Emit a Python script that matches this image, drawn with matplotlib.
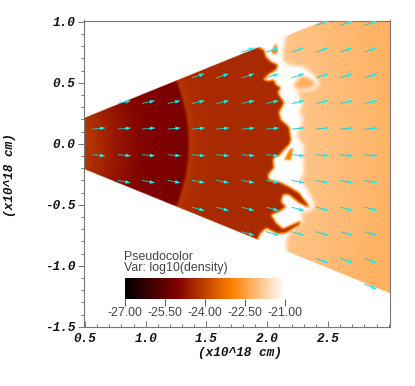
import matplotlib
matplotlib.use("Agg")
import matplotlib.pyplot as plt
import numpy as np
from matplotlib.colors import LinearSegmentedColormap
from matplotlib.path import Path
from matplotlib.ticker import MultipleLocator

# radial density profile inside the cavity (log10 density)
profile_r = [0.4, 0.5, 0.76, 0.97, 1.28, 1.33, 1.36, 1.42, 1.6, 2.6]
profile_rho = [-24.0, -24.12, -24.66, -24.97, -25.09, -25.1, -24.15, -24.3, -24.35, -24.35]

# ambient medium outside the shell
ambient_r = [2.0, 2.3, 2.6, 3.0, 3.4]
ambient_rho = [-21.85, -21.94, -22.04, -22.2, -22.3]

shell_rho = -21.0
plume_rho = -22.25
wisp_rho = -23.0
wedge_slope = 0.405
wedge_offset = 0.012

# inner edge of the shell, top to bottom
front_x = [1.916, 1.965, 1.981, 2.023, 2.080, 2.064, 1.998, 1.957, 2.006, 2.047, 2.064, 2.105,
           2.080, 2.088, 2.130, 2.088, 2.105, 2.171, 2.187, 2.171, 2.130, 2.088, 2.047, 2.039,
           2.047, 1.998, 2.006, 2.088, 2.187, 2.253, 2.327, 2.335, 2.253, 2.171, 2.121, 2.105,
           2.146, 2.088, 2.023, 2.064, 2.121, 2.212, 2.270, 2.253, 2.146, 2.080, 1.981, 1.940, 1.916]
front_y = [0.793, 0.768, 0.711, 0.670, 0.645, 0.604, 0.563, 0.522, 0.514, 0.522, 0.481, 0.457,
           0.424, 0.399, 0.334, 0.252, 0.194, 0.137, 0.030, -0.011, -0.052, -0.101, -0.117, -0.134,
           -0.199, -0.257, -0.298, -0.314, -0.363, -0.404, -0.502, -0.527, -0.486, -0.420, -0.420, -0.478,
           -0.519, -0.560, -0.584, -0.650, -0.699, -0.658, -0.634, -0.667, -0.732, -0.740, -0.691, -0.732, -0.773]

# outer edge of the shell, top to bottom
outer_x = [2.163, 2.138, 2.121, 2.121, 2.163, 2.286, 2.377, 2.426, 2.368, 2.228, 2.245, 2.286,
           2.253, 2.286, 2.270, 2.237, 2.253, 2.294, 2.286, 2.294, 2.261, 2.311, 2.377, 2.368,
           2.270, 2.286, 2.212, 2.163, 2.146, 2.154]
outer_y = [0.907, 0.850, 0.743, 0.686, 0.645, 0.629, 0.563, 0.489, 0.440, 0.424, 0.399, 0.334,
           0.260, 0.211, 0.137, 0.088, 0.030, -0.011, -0.109, -0.240, -0.298, -0.355, -0.486, -0.543,
           -0.568, -0.642, -0.707, -0.748, -0.830, -0.888]

plume_x = [2.204, 2.270, 2.335, 2.393, 2.352, 2.253]
plume_y = [0.473, 0.555, 0.539, 0.489, 0.457, 0.440]
wisp_top_x = [2.023, 2.064, 2.080, 2.047]
wisp_top_y = [0.752, 0.825, 0.752, 0.727]
wisp_mid_x = [2.130, 2.171, 2.204, 2.187]
wisp_mid_y = [-0.134, -0.052, -0.035, -0.134]

# velocity arrows: tails on a grid, one direction per row
arrow_cols = [0.56, 0.77, 0.97, 1.18, 1.38, 1.58, 1.79, 1.99, 2.20, 2.40, 2.60, 2.80]
arrow_rows = [0.97, 0.75, 0.54, 0.33, 0.12, -0.09, -0.30, -0.52, -0.72, -0.94, -1.15]
arrow_angle = [19, 20, 18, 12, 5, -5, -11, -15, -17, -20, -22]
arrow_first_col = [9, 6, 4, 1, 0, 0, 1, 4, 6, 9, 11]
arrow_length = 0.105

x_ticks = [0.5, 1.0, 1.5, 2.0, 2.5]
y_ticks = [-1.5, -1.0, -0.5, 0.0, 0.5, 1.0]
bar_ticks = [-27.0, -25.5, -24.0, -22.5, -21.0]

X_MIN, X_MAX = 0.488, 3.006
Y_MIN, Y_MAX = -1.502, 1.01
W, H = 415, 386


def inside(xs, ys, px, py):
    path = Path(np.column_stack([xs, ys]))
    return path.contains_points(np.column_stack([px.ravel(), py.ravel()])).reshape(px.shape).astype(float)


def blur(mask, sigma):
    half = int(3 * sigma) + 1
    kernel = np.exp(-0.5 * (np.arange(-half, half + 1) / sigma) ** 2)
    kernel /= kernel.sum()
    padded = np.pad(mask, half, mode="edge")
    padded = np.apply_along_axis(lambda v: np.convolve(v, kernel, mode="same"), 0, padded)
    padded = np.apply_along_axis(lambda v: np.convolve(v, kernel, mode="same"), 1, padded)
    return padded[half:-half, half:-half]


def density_field():
    gx, gy = np.meshgrid(np.linspace(X_MIN, X_MAX, 612), np.linspace(Y_MIN, Y_MAX, 612))
    r = np.hypot(gx, gy)

    # close the two outlines far off the wedge
    ix = [0.0] + front_x + [1.9, 0.0]
    iy = [1.2] + front_y + [-1.6, -1.6]
    ox = [2.163] + outer_x + [2.154, 3.3, 3.3]
    oy = [1.2] + outer_y + [-1.6, -1.6, 1.2]

    inner = blur(inside(ix, iy, gx, gy), 2.2)
    outer = blur(inside(ox, oy, gx, gy), 4.0)
    plume = blur(inside(plume_x, plume_y, gx, gy), 3.5)
    wisps = blur(inside(wisp_top_x, wisp_top_y, gx, gy) + inside(wisp_mid_x, wisp_mid_y, gx, gy), 1.6)

    cavity = np.interp(r, profile_r, profile_rho)
    ambient = np.interp(r, ambient_r, ambient_rho)

    z = shell_rho + (ambient - shell_rho) * outer
    z = z + (plume_rho - z) * plume
    z = z + (wisp_rho - z) * wisps
    z = z + (cavity - z) * inner
    return np.ma.masked_where(np.abs(gy) > wedge_slope * gx + wedge_offset, z)


def draw_arrows(ax):
    tx, ty, ux, uy = [], [], [], []
    for row, angle, first in zip(arrow_rows, arrow_angle, arrow_first_col):
        for col in arrow_cols[first:]:
            tx.append(col)
            ty.append(row)
            ux.append(arrow_length * np.cos(np.radians(angle)))
            uy.append(arrow_length * np.sin(np.radians(angle)))
    tx, ty, ux, uy = map(np.array, (tx, ty, ux, uy))
    ax.quiver(tx, ty, ux, uy, angles="xy", scale_units="xy", scale=1, units="dots", width=0.9,
              headwidth=1, headlength=0, headaxislength=0, color="#2fc4c0", zorder=3)
    ax.quiver(tx + 0.6 * ux, ty + 0.6 * uy, 0.4 * ux, 0.4 * uy, angles="xy", scale_units="xy", scale=1,
              units="dots", width=1.2, headwidth=3.4, headlength=4.5, headaxislength=4,
              color="#0ff5f5", zorder=4)


def main():
    cmap = LinearSegmentedColormap.from_list(
        "hot_visit", [(0.0, "#000000"), (0.33, "#800000"), (0.67, "#ff8000"), (1.0, "#ffffff")]
    )
    cmap.set_bad("white")

    fig = plt.figure(figsize=(W / 100, H / 100), dpi=100)
    ax = fig.add_axes([83.5 / W, (H - 327) / H, 306 / W, 306.5 / H])
    im = ax.imshow(density_field(), origin="lower", extent=[X_MIN, X_MAX, Y_MIN, Y_MAX],
                   cmap=cmap, vmin=-27, vmax=-21, aspect="auto", interpolation="bilinear")
    draw_arrows(ax)

    ax.set_xlim(X_MIN, X_MAX)
    ax.set_ylim(Y_MIN, Y_MAX)
    ax.set_xticks(x_ticks)
    ax.set_yticks(y_ticks)
    ax.xaxis.set_minor_locator(MultipleLocator(0.1))
    ax.yaxis.set_minor_locator(MultipleLocator(0.1))
    ax.tick_params(axis="x", which="major", direction="in", length=4, width=0.7, color="#777777", pad=4.5)
    ax.tick_params(axis="x", which="minor", direction="in", length=2, width=0.7, color="#777777")
    ax.tick_params(axis="y", which="major", direction="out", length=4, width=0.7, color="#777777", pad=2)
    ax.tick_params(axis="y", which="minor", direction="out", length=2, width=0.7, color="#777777")
    mono = dict(family="Liberation Mono", weight="bold", style="italic", size=9.2, color="#111111")
    ax.set_xticklabels([f"{t:.1f}" for t in x_ticks], **mono)
    ax.set_yticklabels([f"{t:.1f}" for t in y_ticks], **mono)
    for spine in ax.spines.values():
        spine.set_color("#777777")
        spine.set_linewidth(0.8)

    fig.text(240 / W, 1 - 353 / H, "(x10^18 cm)", ha="center", va="center", **mono)
    fig.text(10 / W, 1 - 175 / H, "(x10^18 cm)", ha="center", va="center", rotation=90, **mono)

    # legend
    sans = dict(family="Liberation Sans", size=8.9, color="#444444")
    fig.text(124 / W, 1 - 257 / H, "Pseudocolor", ha="left", va="center", **sans)
    fig.text(124 / W, 1 - 268 / H, "Var: log10(density)", ha="left", va="center", **sans)
    cax = fig.add_axes([124.5 / W, (H - 299) / H, 160.5 / W, 21 / H])
    bar = fig.colorbar(im, cax=cax, orientation="horizontal")
    bar.outline.set_visible(False)
    bar.set_ticks(bar_ticks, labels=[f"{t:.2f}" for t in bar_ticks])
    cax.tick_params(axis="x", length=5, width=0.7, color="#555555", pad=0.5)
    for label in cax.get_xticklabels():
        label.set(**sans)

    fig.savefig("out.png", dpi=100)


if __name__ == "__main__":
    main()
